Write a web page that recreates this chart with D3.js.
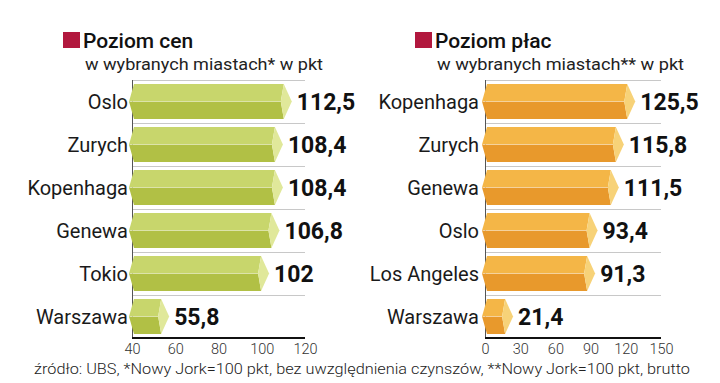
<!DOCTYPE html>
<html><head><meta charset="utf-8">
<script src="https://cdn.jsdelivr.net/npm/d3@7"></script>
<style>
body{margin:0;background:#fff;}
svg{display:block;font-family:Roboto, "Noto Sans", sans-serif;}
</style></head>
<body><svg id="c" width="720" height="383"></svg>
<script>
const leftCats = ["Oslo","Zurych","Kopenhaga","Genewa","Tokio","Warszawa"];
const leftVals = [112.5,108.4,108.4,106.8,102,55.8];
const leftLabels = ["112,5","108,4","108,4","106,8","102","55,8"];
const leftTicks = [40,60,80,100,120];

const rightCats = ["Kopenhaga","Zurych","Genewa","Oslo","Los Angeles","Warszawa"];
const rightVals = [125.5,115.8,111.5,93.4,91.3,21.4];
const rightLabels = ["125,5","115,8","111,5","93,4","91,3","21,4"];
const rightTicks = [0,30,60,90,120,150];

const titles = ["Poziom cen","Poziom płac"];
const subtitles = ["w wybranych miastach* w pkt","w wybranych miastach** w pkt"];
const source = "źródło: UBS, *Nowy Jork=100 pkt, bez uwzględnienia czynszów, **Nowy Jork=100 pkt, brutto";

const svg = d3.select("#c");

function panel(cfg){
  const g = svg.append("g");
  const x = d3.scaleLinear().domain(cfg.domain).range(cfg.range);
  const y = d3.scaleBand().domain(cfg.cats).range([80,338]).paddingInner(0.19).paddingOuter(0.095);
  const step = y.step();
  const bounds = cfg.cats.map((c,i)=>80 + i*step);
  g.selectAll("line.grid").data(bounds).join("line")
    .attr("x1",x.range()[0]).attr("x2",x.range()[1])
    .attr("y1",d=>d+0.5).attr("y2",d=>d+0.5)
    .attr("stroke","#c8c8c8").attr("stroke-width",1);
  g.append("line").attr("x1",x.range()[0]+0.5).attr("x2",x.range()[0]+0.5)
    .attr("y1",80).attr("y2",338).attr("stroke","#555").attr("stroke-width",1);
  g.append("line").attr("x1",x.range()[0]).attr("x2",x.range()[1])
    .attr("y1",338).attr("y2",338).attr("stroke","#111").attr("stroke-width",2);
  const ax = d3.axisBottom(x).tickValues(cfg.ticks).tickSize(0).tickPadding(0).tickFormat(d3.format("d"));
  const axg = g.append("g").attr("transform","translate(0,344)").call(ax);
  axg.select(".domain").remove();
  axg.selectAll("text").attr("font-size",14.5).attr("fill","#333").attr("dy","0.71em")
    .attr("font-family","Roboto, sans-serif").attr("font-weight",300);

  const x0 = x(cfg.domain[0]);
  const rows = g.selectAll("g.row").data(cfg.cats.map((c,i)=>({c,v:cfg.vals[i],l:cfg.labels[i]}))).join("g");
  rows.each(function(d){
    const r = d3.select(this);
    const yt = y(d.c), yb = yt + y.bandwidth(), yc = (yt+yb)/2;
    const xv = x(d.v);
    const top = [[x0-3,yc],[x0+2,yt],[xv-5,yt],[xv-8,yc]];
    const bot = [[x0-3,yc],[x0+2,yb],[xv-5,yb],[xv-8,yc]];
    const cap = [[xv-5,yt],[xv+3,yc],[xv-5,yb],[xv-8,yc]];
    r.append("polygon").attr("points",top.join(" ")).attr("fill",cfg.cTop);
    r.append("polygon").attr("points",bot.join(" ")).attr("fill",cfg.cBot);
    r.append("line").attr("x1",x0-2).attr("x2",xv-8).attr("y1",yc).attr("y2",yc)
      .attr("stroke","#fff").attr("stroke-opacity",0.35).attr("stroke-width",1);
    r.append("polygon").attr("points",cap.join(" ")).attr("fill",cfg.cCap);
    r.append("text").attr("x",cfg.labelX).attr("y",yc)
      .attr("dy","0.36em").attr("text-anchor","end").attr("font-size",20).attr("font-weight",400)
      .attr("fill","#1a1a1a").text(d.c);
    r.append("text").attr("x",xv+8).attr("y",yc).attr("dy","0.36em")
      .attr("font-size",23).attr("font-weight",700).attr("fill","#111").text(d.l);
  });
  g.append("rect").attr("x",cfg.sqX).attr("y",32).attr("width",17).attr("height",16).attr("fill","#b2183e");
  g.append("text").attr("x",cfg.sqX+20).attr("y",48).attr("font-size",21).attr("font-weight",500)
    .attr("fill","#111").text(cfg.title);
  g.append("text").attr("x",cfg.sqX+22).attr("y",70).attr("font-size",16).attr("fill","#222")
    .attr("textLength",cfg.subLen).attr("lengthAdjust","spacingAndGlyphs").text(cfg.sub);
}

panel({cats:leftCats,vals:leftVals,labels:leftLabels,ticks:leftTicks,domain:[40,120],range:[132,305],
  cTop:"#c8d66c",cBot:"#b1c045",cCap:"#e0e89a",labelX:128,sqX:63,title:titles[0],sub:subtitles[0],subLen:238});
panel({cats:rightCats,vals:rightVals,labels:rightLabels,ticks:rightTicks,domain:[0,150],range:[485,661],
  cTop:"#f4b647",cBot:"#e8992c",cCap:"#f7d278",labelX:479,sqX:415,title:titles[1],sub:subtitles[1],subLen:247});

svg.append("text").attr("x",34).attr("y",374).attr("font-size",15).attr("fill","#222").attr("font-weight",300)
  .attr("textLength",656).attr("lengthAdjust","spacingAndGlyphs").text(source);
</script></body></html>
